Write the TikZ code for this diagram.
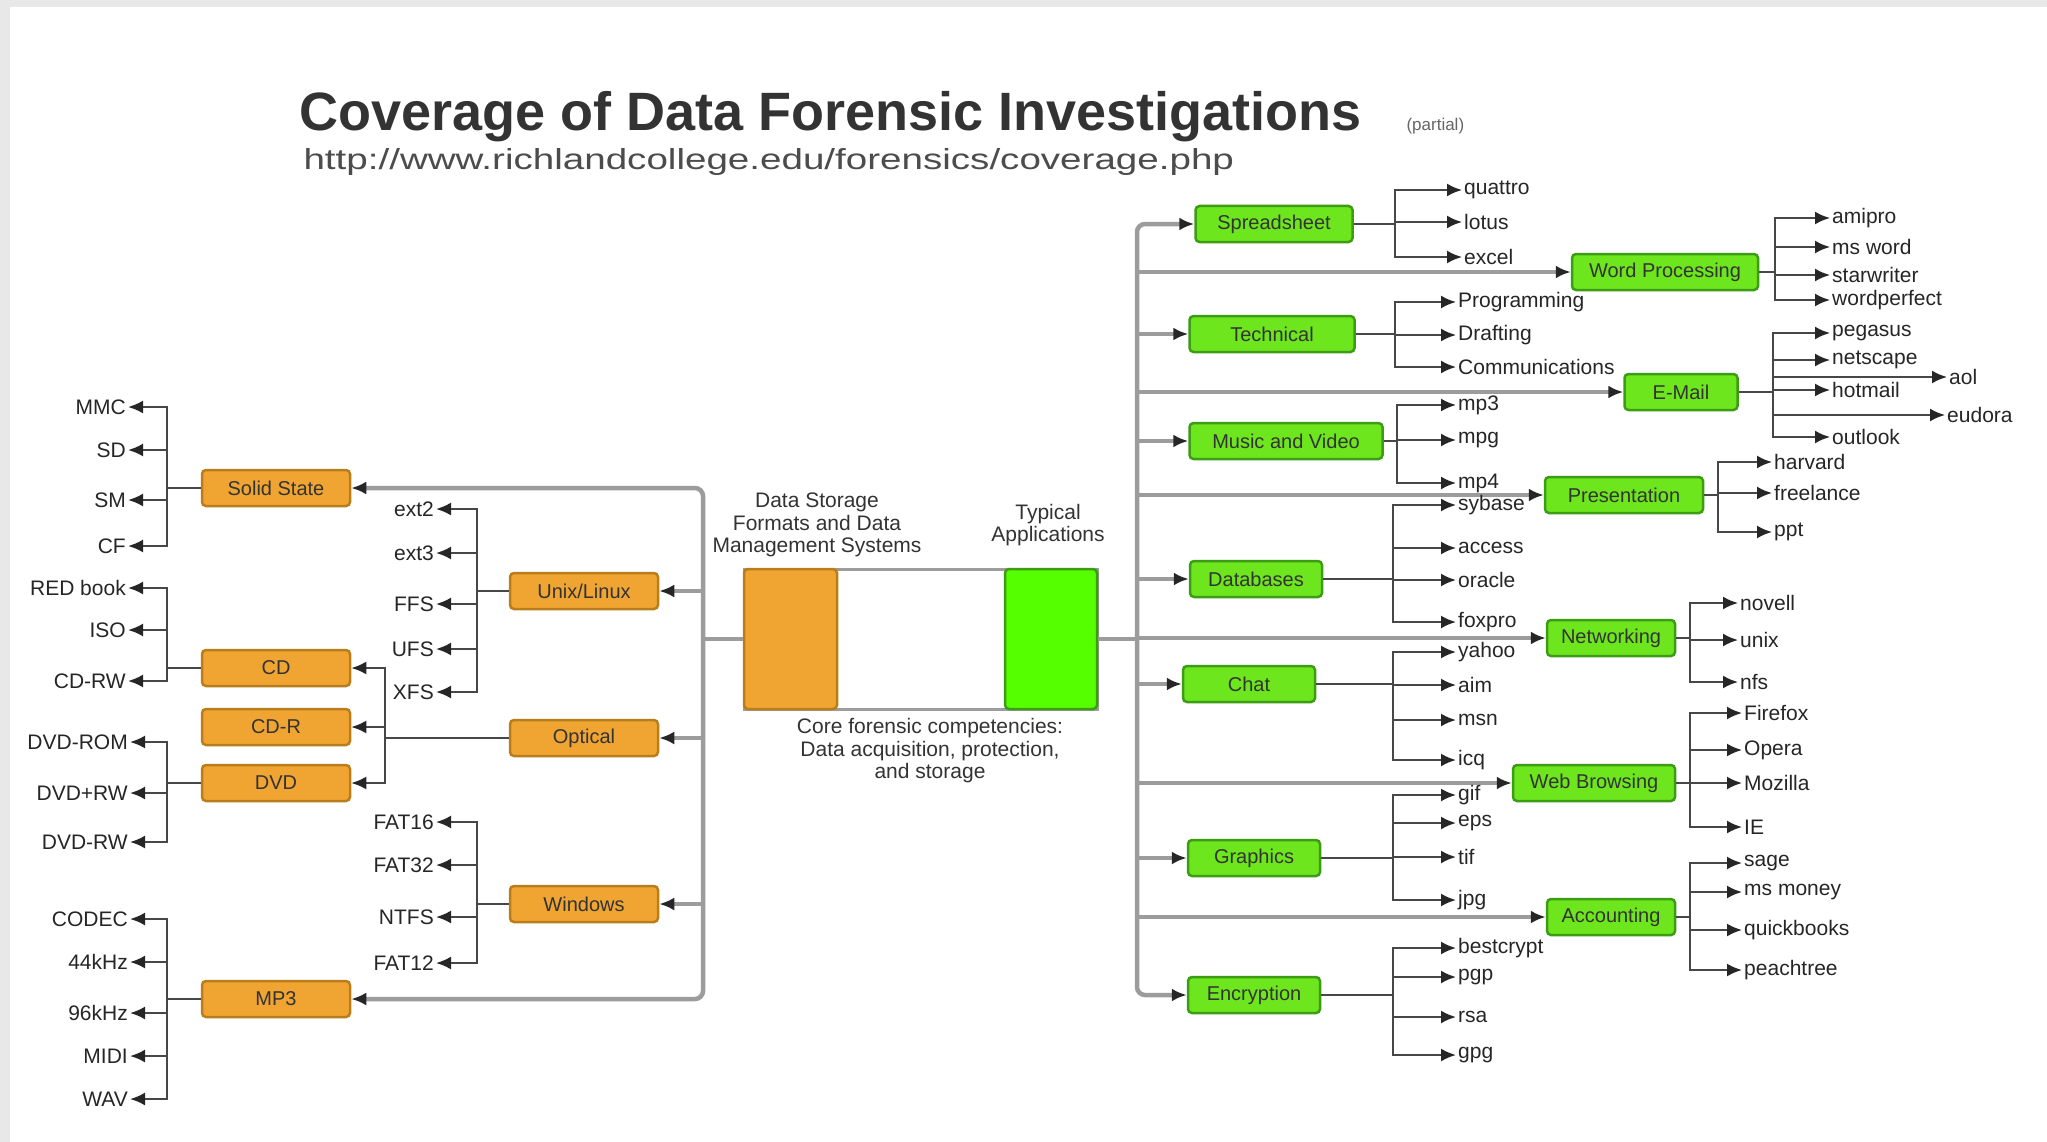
\documentclass[tikz,border=0pt]{standalone}
\usepackage{graphicx}
\usepackage{fontspec}
\setmainfont{Liberation Sans}
\usepackage{tikz}
\usetikzlibrary{arrows, arrows.meta, positioning, calc}

\definecolor{boxorange}{HTML}{F0A532}
\definecolor{edgeorange}{HTML}{B97E1C}
\definecolor{boxgreen}{HTML}{6EE61E}
\definecolor{edgegreen}{HTML}{3C9C14}
\definecolor{trunkgray}{HTML}{9C9C9C}
\definecolor{stemgray}{HTML}{474747}

\tikzstyle{obox} = [draw=edgeorange, fill=boxorange, line width=2.5pt, rounded corners=4pt, minimum height=36pt, inner sep=0pt, text=black!80, font=\fontsize{20}{22}\selectfont]
\tikzstyle{gbox} = [draw=edgegreen, fill=boxgreen, line width=2.5pt, rounded corners=4pt, minimum height=36pt, inner sep=0pt, text=black!80, font=\fontsize{20}{22}\selectfont]
\tikzstyle{leaf} = [inner sep=2pt, text=black!85, font=\fontsize{21}{23}\selectfont]
\tikzstyle{stem} = [draw=stemgray, line width=2.2pt]
\tikzstyle{trunk} = [draw=trunkgray, line width=4.5pt]
\tikzstyle{caption} = [align=center, text=black!80, font=\fontsize{21}{22.5}\selectfont]

% one box fanning out to its leaves
\newcommand{\fanout}[6]{%
  \coordinate (#1fork) at (#2,0 |- #1.#5);
  \draw[stem] (#1.#5) -- (#1fork);
  \foreach \y/\lbl [count=\i] in {#6} {
    \node (#1\i) [leaf, anchor=#4] at (#3,\y) {\lbl};
    \draw[stem, ->] (#1fork) |- (#1\i.#4);
  }
}

\begin{document}
\begin{tikzpicture}[x=1pt, y=-1pt, >={Latex[length=15pt, width=13pt, color=black!85]}]

    % Page
    \useasboundingbox (0,0) rectangle (2047,1142);
    \fill[black!9] (0,0) rectangle (2047,1142);
    \fill[white] (10,7) rectangle (2047,1142);

    % Heading
    \node (title) [anchor=base west, text=black!80, font=\fontsize{54}{60}\selectfont\bfseries] at (296,131) {Coverage of Data Forensic Investigations};
    \node (partial) [anchor=base west, text=black!60, font=\fontsize{17}{19}\selectfont] at (1403,131) {(partial)};
    \node (url) [anchor=base west, text=black!70, font=\fontsize{29}{32}\selectfont] at (300,170) {\scalebox{1.33}[1]{http://www.richlandcollege.edu/forensics/coverage.php}};

    % Core
    \node (core) [draw=trunkgray, line width=3pt, fill=white, minimum width=353pt, minimum height=140pt, inner sep=0pt] at (920.5,639) {};
    \node (storage) [obox, minimum width=93pt, minimum height=140pt] at (790.5,639) {};
    \node (apps) [gbox, fill=green!55!lime, minimum width=92pt, minimum height=140pt] at (1051,639) {};
    \node (storagelbl) [caption] at (817,525) {Data Storage\\Formats and Data\\Management Systems};
    \node (appslbl) [caption] at (1048,525) {Typical\\Applications};
    \node (corelbl) [caption] at (930,751) {Core forensic competencies:\\Data acquisition, protection,\\and storage};

    % Storage formats
    \node (solid) [obox, minimum width=148pt] at (276,488) {Solid State};
    \node (cd) [obox, minimum width=148pt] at (276,668) {CD};
    \node (cdr) [obox, minimum width=148pt] at (276,727) {CD-R};
    \node (dvd) [obox, minimum width=148pt] at (276,783) {DVD};
    \node (mp3) [obox, minimum width=148pt] at (276,999) {MP3};
    \node (unix) [obox, minimum width=148pt] at (584,591) {Unix/Linux};
    \node (optical) [obox, minimum width=148pt] at (584,738) {Optical};
    \node (windows) [obox, minimum width=148pt] at (584,904) {Windows};

    % Applications
    \node (spread) [gbox, minimum width=157pt] at (1274,224) {Spreadsheet};
    \node (wordproc) [gbox, minimum width=186pt] at (1665,272) {Word Processing};
    \node (technical) [gbox, minimum width=165pt] at (1272,334) {Technical};
    \node (email) [gbox, minimum width=113pt] at (1681,392) {E-Mail};
    \node (music) [gbox, minimum width=193pt] at (1286,441) {Music and Video};
    \node (present) [gbox, minimum width=158pt] at (1624,495) {Presentation};
    \node (databases) [gbox, minimum width=132pt] at (1256,579) {Databases};
    \node (network) [gbox, minimum width=128pt] at (1611,638) {Networking};
    \node (chat) [gbox, minimum width=132pt] at (1249,684) {Chat};
    \node (web) [gbox, minimum width=162pt] at (1594,783) {Web Browsing};
    \node (graphics) [gbox, minimum width=132pt] at (1254,858) {Graphics};
    \node (accounting) [gbox, minimum width=128pt] at (1611,917) {Accounting};
    \node (crypt) [gbox, minimum width=132pt] at (1254,995) {Encryption};

    % Trunks
    \coordinate (ltop) at (703,488);
    \coordinate (lbot) at (703,999);
    \draw[trunk, rounded corners=8pt, <->] (solid.east) -- (ltop) -- (lbot) -- (mp3.east);
    \foreach \b in {unix, optical, windows}
        \draw[trunk, ->] (ltop |- \b.east) -- (\b.east);
    \draw[trunk] (ltop |- storage.west) -- (storage.west);

    \coordinate (rtop) at (1137,224);
    \coordinate (rbot) at (1137,995);
    \draw[trunk, rounded corners=8pt, <->] (spread.west) -- (rtop) -- (rbot) -- (crypt.west);
    \foreach \b in {wordproc, technical, email, music, present, databases, network, chat, web, graphics, accounting}
        \draw[trunk, ->] (rtop |- \b.west) -- (\b.west);
    \draw[trunk] (apps.east) -- (rtop |- apps.east);

    % Optical media
    \coordinate (optfork) at (385,0 |- optical.west);
    \draw[stem] (optical.west) -- (optfork);
    \foreach \b in {cd, cdr, dvd}
        \draw[stem, ->] (optfork) |- (\b.east);

    % Leaves, left
    \fanout{solid}{167}{128}{east}{west}{407/MMC, 450/SD, 500/SM, 546/CF}
    \fanout{cd}{167}{128}{east}{west}{588/RED book, 630/ISO, 681/CD-RW}
    \fanout{dvd}{167}{130}{east}{west}{742/DVD-ROM, 793/DVD+RW, 842/DVD-RW}
    \fanout{mp3}{167}{130}{east}{west}{919/CODEC, 962/44kHz, 1013/96kHz, 1056/MIDI, 1099/WAV}
    \fanout{unix}{477}{436}{east}{west}{509/ext2, 553/ext3, 604/FFS, 649/UFS, 692/XFS}
    \fanout{windows}{477}{436}{east}{west}{822/FAT16, 865/FAT32, 917/NTFS, 963/FAT12}

    % Leaves, right
    \fanout{spread}{1395}{1462}{west}{east}{190/quattro, 222/lotus, 257/excel}
    \fanout{technical}{1395}{1456}{west}{east}{302/Programming, 335/Drafting, 367/Communications}
    \fanout{music}{1397}{1456}{west}{east}{405/mp3, 440/mpg, 483/mp4}
    \fanout{databases}{1393}{1456}{west}{east}{505/sybase, 548/access, 580/oracle, 622/foxpro}
    \fanout{chat}{1393}{1456}{west}{east}{652/yahoo, 685/aim, 720/msn, 760/icq}
    \fanout{graphics}{1393}{1456}{west}{east}{795/gif, 823/eps, 857/tif, 900/jpg}
    \fanout{crypt}{1393}{1456}{west}{east}{948/bestcrypt, 977/pgp, 1017/rsa, 1055/gpg}
    \fanout{wordproc}{1775}{1830}{west}{east}{218/amipro, 247/ms word, 275/starwriter, 300/wordperfect}
    \fanout{email}{1773}{1830}{west}{east}{333/pegasus, 360/netscape, 390/hotmail, 437/outlook}
    \fanout{present}{1718}{1772}{west}{east}{462/harvard, 493/freelance, 532/ppt}
    \fanout{network}{1690}{1738}{west}{east}{603/novell, 640/unix, 682/nfs}
    \fanout{web}{1690}{1742}{west}{east}{713/Firefox, 750/Opera, 783/Mozilla, 827/IE}
    \fanout{accounting}{1690}{1742}{west}{east}{863/sage, 892/ms money, 930/quickbooks, 970/peachtree}

    % Mail services
    \node (aol) [leaf, anchor=west] at (1947,377) {aol};
    \node (eudora) [leaf, anchor=west] at (1945,415) {eudora};
    \draw[stem, ->] (emailfork) |- (aol.west);
    \draw[stem, ->] (emailfork) |- (eudora.west);

\end{tikzpicture}
\end{document}
